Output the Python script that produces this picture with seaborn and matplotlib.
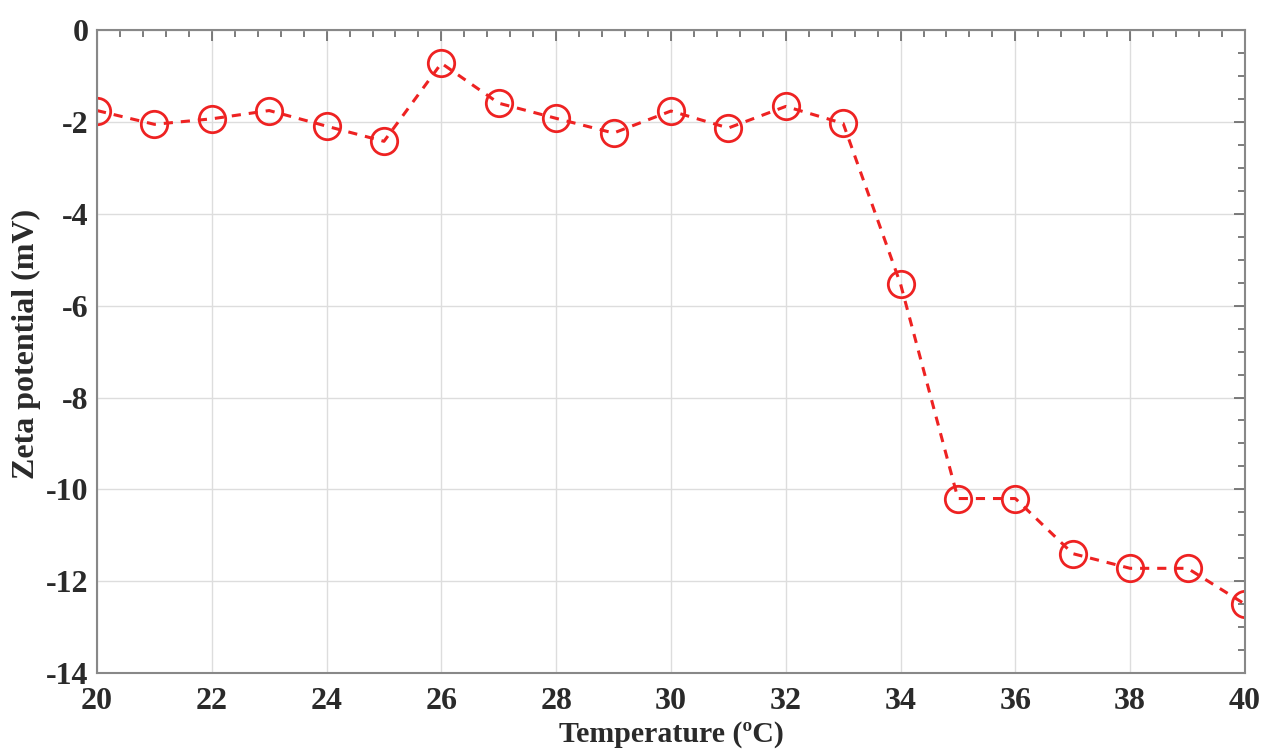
import matplotlib
matplotlib.use("Agg")
import matplotlib.pyplot as plt
import seaborn as sns
import numpy as np
import pandas as pd
from matplotlib.ticker import MultipleLocator

temperature = [20, 21, 22, 23, 24, 25, 26, 27, 28, 29, 30, 31, 32, 33, 34, 35, 36, 37, 38, 39, 40]
zeta = [-1.75, -2.05, -1.93, -1.75, -2.09, -2.42, -0.72, -1.59, -1.92, -2.24, -1.76, -2.13,
        -1.66, -2.03, -5.53, -10.2, -10.2, -11.4, -11.72, -11.72, -12.5]
x_ticks = [20, 22, 24, 26, 28, 30, 32, 34, 36, 38, 40]
y_ticks = [0, -2, -4, -6, -8, -10, -12, -14]

sns.set_theme(style="white")
plt.rcParams['font.family'] = ['Liberation Serif', 'DejaVu Serif']
plt.rcParams['font.weight'] = 'bold'

df = pd.DataFrame({"Temperature": temperature, "Zeta": zeta})

fig = plt.figure(figsize=(12.63, 7.55), dpi=100)
ax = fig.add_axes([0.0768, 0.1086, 0.9089, 0.8514])

sns.lineplot(data=df, x="Temperature", y="Zeta", ax=ax, color="#ee2222",
             linewidth=2.2, marker="o", markersize=19,
             markerfacecolor="none", markeredgecolor="#ee2222", markeredgewidth=2.0,
             dashes=False)
ax.lines[0].set_linestyle((0, (3, 2.6)))

ax.set_xlim(20, 40)
ax.set_ylim(-14, 0)
ax.set_xticks(x_ticks)
ax.set_yticks(y_ticks)
ax.set_xticklabels([str(t) for t in x_ticks])
ax.set_yticklabels([str(t) for t in y_ticks])
ax.xaxis.set_minor_locator(MultipleLocator(0.4))
ax.yaxis.set_minor_locator(MultipleLocator(0.5))
ax.grid(True, which="major", color="#dddddd", linewidth=1.0)
ax.set_axisbelow(True)

for s in ax.spines.values():
    s.set_visible(True)
    s.set_color("#888888")
    s.set_linewidth(1.5)

ax.tick_params(which="both", direction="in", top=True, right=True, color="#666666",
               labelsize=23, width=1.2)
ax.tick_params(which="major", length=8)
ax.tick_params(axis="x", which="major", pad=10)
ax.tick_params(axis="y", which="major", pad=6)
ax.tick_params(which="minor", length=5)
for lab in ax.get_xticklabels() + ax.get_yticklabels():
    lab.set_fontweight("bold")
    lab.set_color("#2a2a2a")

ax.set_xlabel("Temperature (ºC)", fontsize=21.5, fontweight="bold", color="#2a2a2a", labelpad=4)
ax.set_ylabel("Zeta potential (mV)", fontsize=23, fontweight="bold", color="#2a2a2a", labelpad=2)
ax.yaxis.set_label_coords(-0.049, 0.512)

fig.savefig("out.png", dpi=100)
